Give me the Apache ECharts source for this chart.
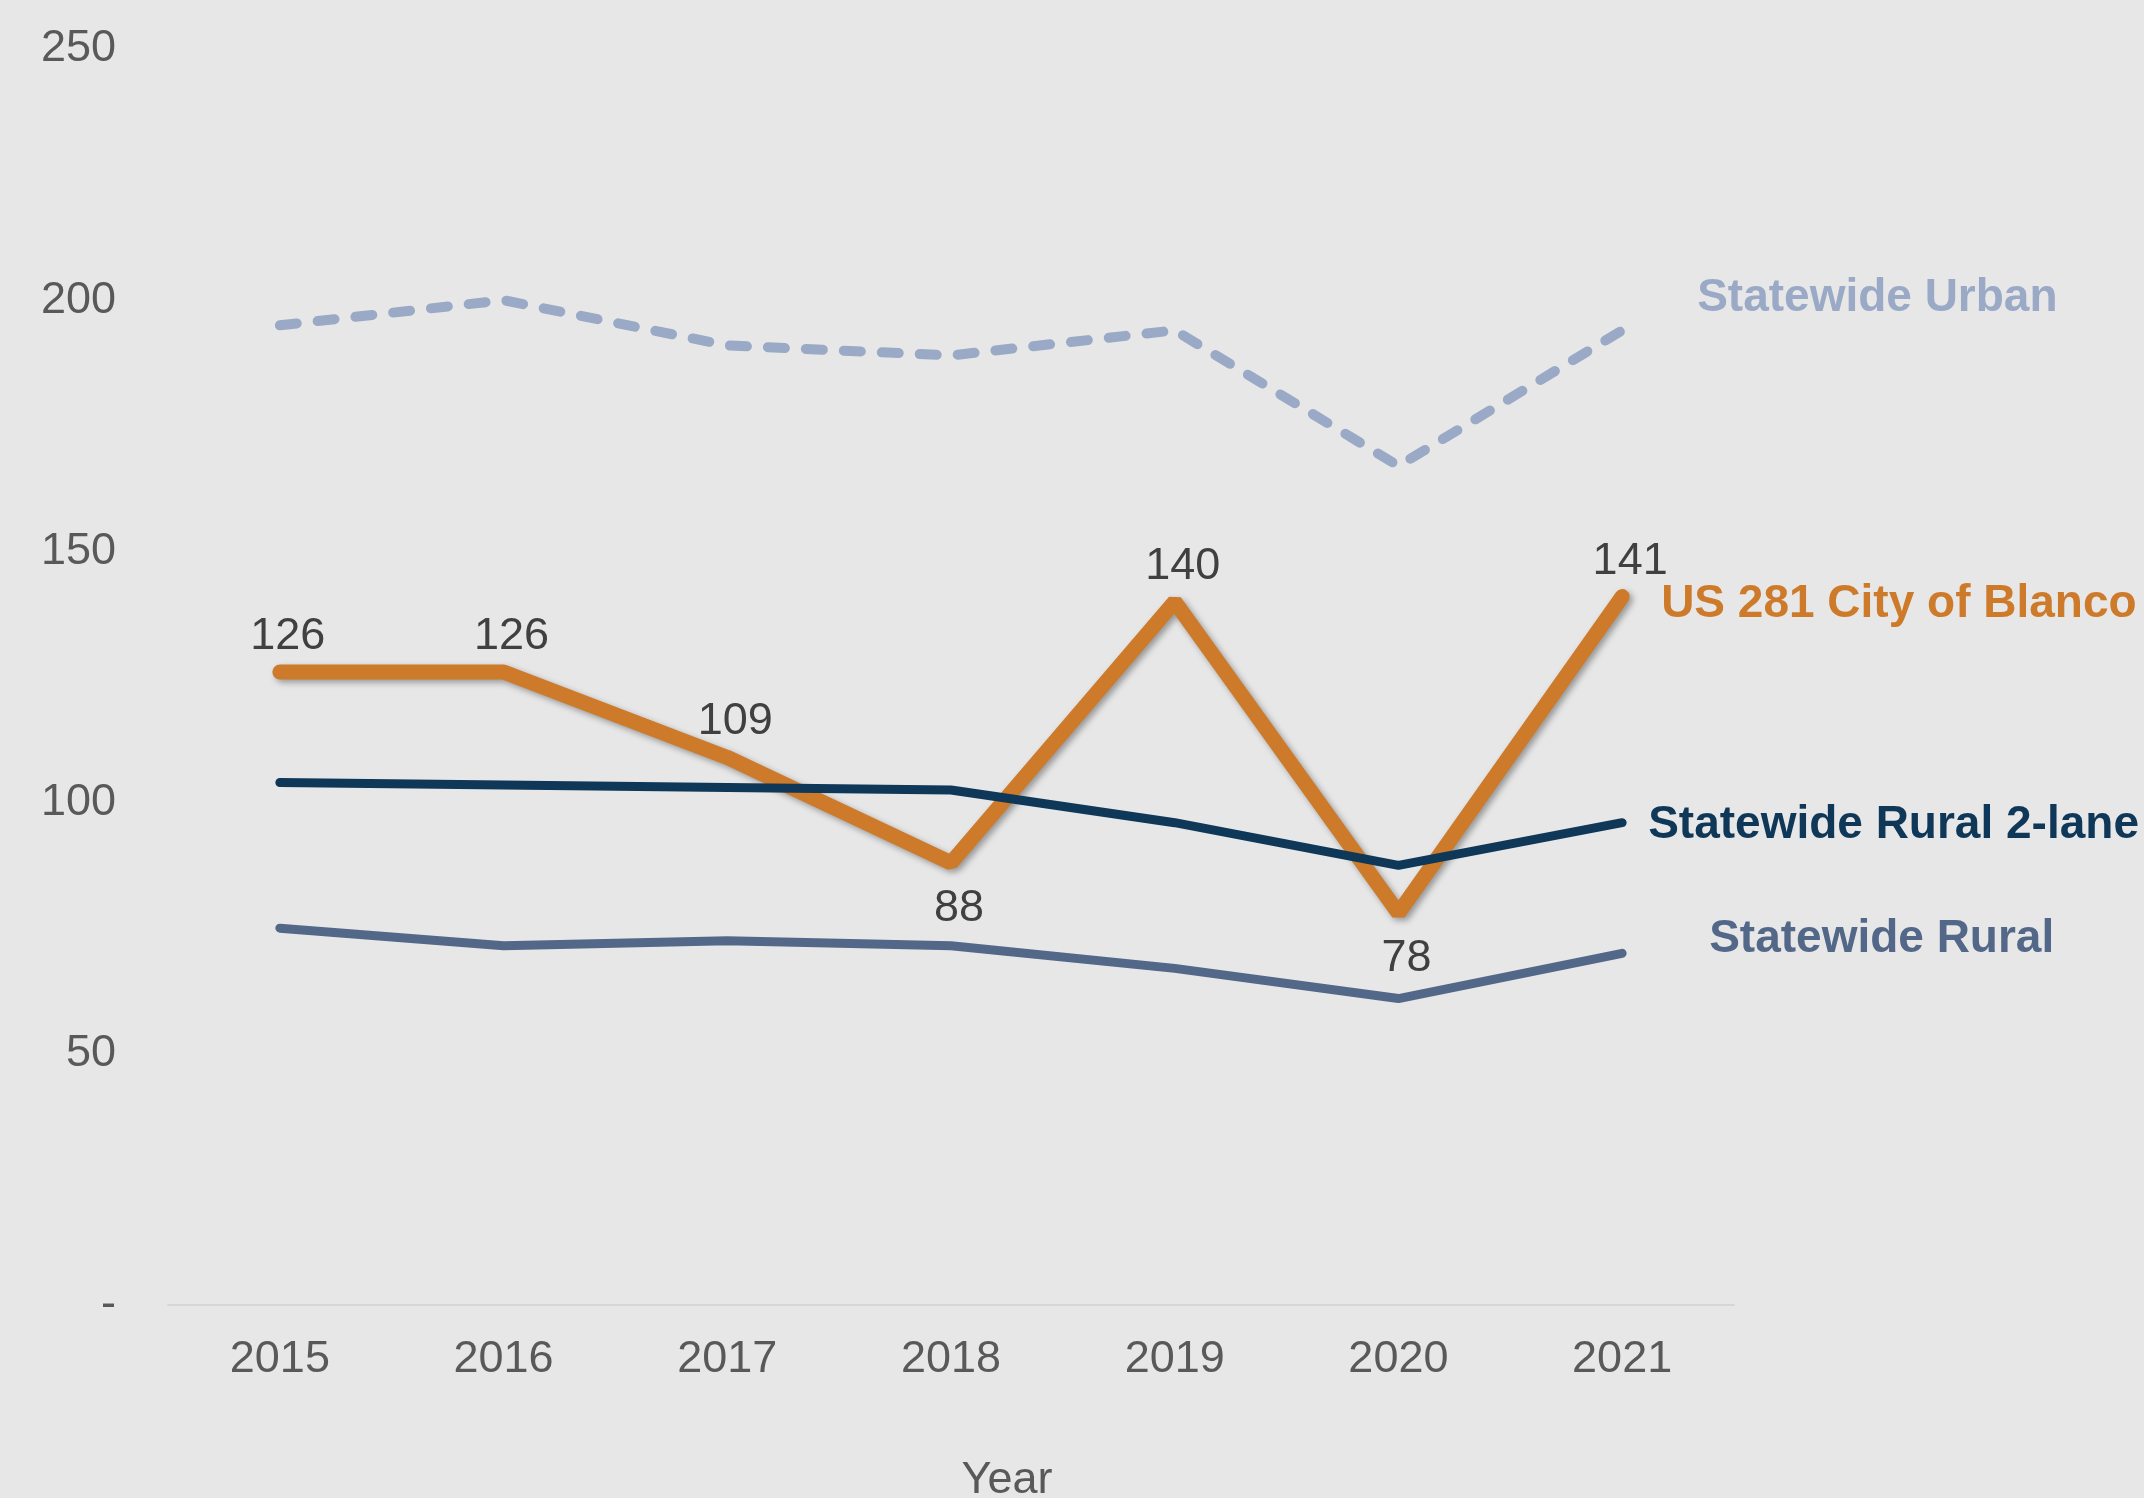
<!DOCTYPE html>
<html>
<head>
<meta charset="utf-8">
<script src="https://cdn.jsdelivr.net/npm/echarts@6/dist/echarts.min.js"></script>
<style>
html,body{margin:0;padding:0;background:#e7e7e7;}
#chart{width:2144px;height:1498px;}
</style>
</head>
<body>
<div id="chart"></div>
<script>
var years = ['2015','2016','2017','2018','2019','2020','2021'];
var statewideUrban = [195, 200, 191, 189, 194, 167, 194];
var statewideRural = [75, 71.5, 72.5, 71.5, 67, 61, 70];
var statewideRural2Lane = [104, 103.5, 103, 102.5, 96, 87.5, 96];
var us281Blanco = [126, 126, 109, 88, 140, 78, 141];
var blancoLabelPos = ['top','top','top','bottom','top','bottom','top'];
var yTicks = {min: 0, max: 250, interval: 50};

var FONT = '"Liberation Sans", Arial, sans-serif';

function blancoData() {
  return us281Blanco.map(function (v, i) {
    return {
      value: v,
      label: {
        position: blancoLabelPos[i],
        distance: blancoLabelPos[i] === 'top' ? 12 : 22
      }
    };
  });
}

var chart = echarts.init(document.getElementById('chart'));
chart.setOption({
  backgroundColor: '#e7e7e7',
  animation: false,
  grid: {left: 168, right: 410, top: 49, bottom: 193, containLabel: false, outerBoundsMode: 'none'},
  xAxis: {
    type: 'category',
    data: years,
    boundaryGap: true,
    axisLine: {show: true, lineStyle: {color: '#d6d6d6', width: 2}},
    axisTick: {show: false},
    axisLabel: {color: '#595959', fontSize: 45, fontFamily: FONT, margin: 32},
    name: 'Year',
    nameLocation: 'middle',
    nameGap: 153,
    nameTextStyle: {color: '#595959', fontSize: 45, fontFamily: FONT, padding: [0, 0, 0, 112]}
  },
  yAxis: {
    type: 'value',
    min: yTicks.min,
    max: yTicks.max,
    interval: yTicks.interval,
    axisLine: {show: false},
    axisTick: {show: false},
    splitLine: {show: false},
    axisLabel: {
      color: '#595959', fontSize: 45, fontFamily: FONT, margin: 52,
      formatter: function (v) { return v === 0 ? '-' : String(v); }
    }
  },
  series: [
    {
      name: 'Statewide Urban',
      type: 'line',
      data: statewideUrban,
      symbol: 'none',
      z: 1,
      lineStyle: {color: '#9aa9c6', width: 10, type: [17, 21], cap: 'round'},
      endLabel: {
        show: true, formatter: 'Statewide Urban', color: '#9aa9c6',
        fontSize: 46, fontWeight: 'bold', fontFamily: FONT,
        distance: 0, offset: [75, -32], align: 'left'
      }
    },
    {
      name: 'Statewide Rural',
      type: 'line',
      data: statewideRural,
      symbol: 'none',
      z: 2,
      lineStyle: {color: '#536888', width: 9, cap: 'round'},
      endLabel: {
        show: true, formatter: 'Statewide Rural', color: '#536888',
        fontSize: 46, fontWeight: 'bold', fontFamily: FONT,
        distance: 0, offset: [87, -14], align: 'left'
      }
    },
    {
      name: 'US 281 City of Blanco',
      type: 'line',
      data: blancoData(),
      symbol: 'circle',
      symbolSize: 2,
      showSymbol: true,
      itemStyle: {color: 'transparent', borderWidth: 0},
      z: 3,
      lineStyle: {
        color: '#cd7b2b', width: 15, cap: 'round',
        shadowColor: 'rgba(0,0,0,0.35)', shadowBlur: 6, shadowOffsetX: 3, shadowOffsetY: 3
      },
      label: {show: true, color: '#404040', fontSize: 45, fontFamily: FONT, offset: [8, 0]},
      endLabel: {
        show: true, formatter: 'US 281 City of Blanco', color: '#cd7b2b',
        fontSize: 46, fontWeight: 'bold', fontFamily: FONT,
        distance: 0, offset: [39, 8], align: 'left'
      }
    },
    {
      name: 'Statewide Rural 2-lane',
      type: 'line',
      data: statewideRural2Lane,
      symbol: 'none',
      z: 4,
      lineStyle: {color: '#0f3758', width: 9, cap: 'round'},
      endLabel: {
        show: true, formatter: 'Statewide Rural 2-lane', color: '#0f3758',
        fontSize: 46, fontWeight: 'bold', fontFamily: FONT,
        distance: 0, offset: [26, 3], align: 'left'
      }
    }
  ]
});
</script>
</body>
</html>
